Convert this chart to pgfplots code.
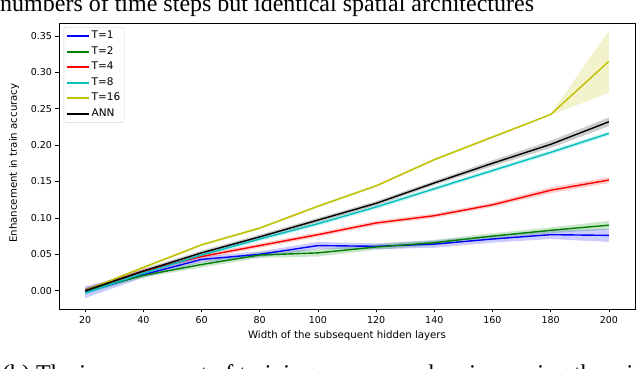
\documentclass[border=0pt]{standalone}
\usepackage{fontspec}
\setmainfont{DejaVu Sans}
\newfontfamily\capfont{Liberation Serif}
\usepackage{pgfplots}
\usepackage{pgfplotstable}
\pgfplotsset{compat=1.18}
\usepgfplotslibrary{fillbetween}

% matplotlib single-letter colours
\definecolor{mplb}{rgb}{0,0,1}
\definecolor{mplg}{rgb}{0,0.5,0}
\definecolor{mplr}{rgb}{1,0,0}
\definecolor{mplc}{rgb}{0,0.75,0.75}
\definecolor{mply}{rgb}{0.75,0.75,0}

% width, mean, band low, band high
\pgfplotstableread{
x y lo hi
20 -0.002 -0.010 0.006
40 0.022 0.018 0.026
60 0.043 0.039 0.047
80 0.050 0.046 0.054
100 0.062 0.057 0.067
120 0.061 0.057 0.065
140 0.064 0.059 0.069
160 0.071 0.066 0.076
180 0.077 0.071 0.083
200 0.076 0.067 0.085
}\tone
\pgfplotstableread{
x y lo hi
20 0.000 -0.004 0.004
40 0.021 0.018 0.024
60 0.036 0.032 0.040
80 0.049 0.045 0.053
100 0.052 0.047 0.057
120 0.060 0.056 0.064
140 0.066 0.062 0.070
160 0.075 0.071 0.079
180 0.083 0.079 0.087
200 0.090 0.084 0.096
}\ttwo
\pgfplotstableread{
x y lo hi
20 0.000 -0.003 0.003
40 0.027 0.024 0.030
60 0.047 0.044 0.050
80 0.062 0.059 0.065
100 0.077 0.074 0.080
120 0.093 0.090 0.096
140 0.103 0.100 0.106
160 0.118 0.115 0.121
180 0.138 0.134 0.142
200 0.152 0.148 0.156
}\tfour
\pgfplotstableread{
x y lo hi
20 -0.003 -0.006 0.000
40 0.024 0.021 0.027
60 0.049 0.046 0.052
80 0.071 0.068 0.074
100 0.092 0.089 0.095
120 0.115 0.112 0.118
140 0.140 0.137 0.143
160 0.165 0.162 0.168
180 0.190 0.187 0.193
200 0.216 0.213 0.219
}\teight
\pgfplotstableread{
x y lo hi
20 0.000 -0.002 0.002
40 0.032 0.030 0.034
60 0.063 0.061 0.065
80 0.086 0.084 0.088
100 0.116 0.114 0.118
120 0.144 0.142 0.146
140 0.180 0.178 0.182
160 0.211 0.209 0.213
180 0.242 0.241 0.243
200 0.315 0.272 0.357
}\tsixteen
\pgfplotstableread{
x y lo hi
20 0.000 -0.003 0.003
40 0.027 0.024 0.030
60 0.052 0.049 0.055
80 0.074 0.071 0.077
100 0.097 0.094 0.100
120 0.120 0.117 0.123
140 0.148 0.145 0.151
160 0.175 0.171 0.179
180 0.201 0.196 0.206
200 0.232 0.226 0.238
}\ann

% shaded band + mean line for one series
\newcommand{\series}[3]{%
  \addplot[draw=none, forget plot, name path=#1lo] table[x=x, y=lo] {#2};
  \addplot[draw=none, forget plot, name path=#1hi] table[x=x, y=hi] {#2};
  \addplot[fill=#3, fill opacity=0.2, draw=none, forget plot] fill between[of=#1lo and #1hi];
  \addplot[#3, line width=1.4pt] table[x=x, y=y] {#2};
}

\begin{document}
\begin{tikzpicture}
% page frame: axis box at (59,23)-(635,309) of a 640x369 figure
\path (-59pt,-60pt) rectangle (581pt,309pt);
\node[overlay, anchor=base west, inner sep=0pt, font=\capfont\fontsize{24}{28}\selectfont]
  at (-59pt,297pt) {numbers of time steps but identical spatial architectures};
\node[overlay, anchor=base west, inner sep=0pt, font=\capfont\fontsize{24}{28}\selectfont]
  at (-57pt,-73pt) {(b) The improvement of training accuracy when increasing the width};
\begin{axis}[
  at={(0pt,0pt)}, anchor=south west,
  scale only axis, width=576pt, height=286pt,
  xmin=11, xmax=209, ymin=-0.0251, ymax=0.3677,
  xtick={20,40,60,80,100,120,140,160,180,200},
  ytick={0,0.05,0.10,0.15,0.20,0.25,0.30,0.35},
  yticklabel style={/pgf/number format/.cd, fixed, fixed zerofill, precision=2},
  /pgf/number format/assume math mode=true,
  tick label style={font=\fontsize{9.5}{11}\selectfont, black},
  tick align=outside, tick pos=left,
  major tick length=3.5pt,
  tick style={black, line width=0.6pt},
  axis line style={black, line width=0.7pt},
  xlabel={Width of the subsequent hidden layers},
  ylabel={Enhancement in train accuracy},
  label style={font=\fontsize{10.2}{12}\selectfont},
  xlabel style={at={(axis description cs:0.5,-0.095)}, anchor=center},
  ylabel style={at={(axis description cs:-0.078,0.51)}, anchor=center},
  legend style={at={(axis description cs:0.008,0.986)}, anchor=north west,
    draw=black!18, rounded corners=2pt, inner xsep=2pt, inner ysep=2pt,
    font=\fontsize{10.5}{12}\selectfont, row sep=1.8pt,
    nodes={inner sep=2pt, text height=7.7pt, text depth=2pt}},
  legend cell align=left,
  legend image code/.code={\draw[#1, line width=1.9pt] (0pt,0pt) -- (22pt,0pt);},
]
\series{a}{\tone}{mplb}
\addlegendentry{T=1}
\series{b}{\ttwo}{mplg}
\addlegendentry{T=2}
\series{c}{\tfour}{mplr}
\addlegendentry{T=4}
\series{d}{\teight}{mplc}
\addlegendentry{T=8}
\series{e}{\tsixteen}{mply}
\addlegendentry{T=16}
\series{f}{\ann}{black}
\addlegendentry{ANN}
\end{axis}
\end{tikzpicture}
\end{document}
